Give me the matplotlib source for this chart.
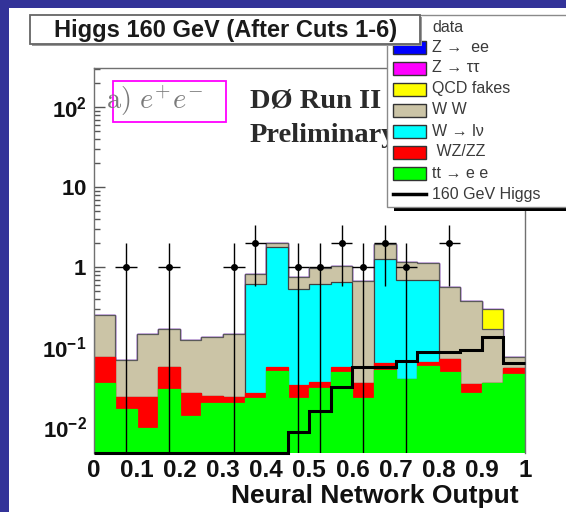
import numpy as np
import matplotlib
matplotlib.use("Agg")
import matplotlib.pyplot as plt
from matplotlib.patches import Rectangle
from matplotlib.lines import Line2D
from matplotlib.ticker import FixedLocator, FixedFormatter, LogLocator, NullFormatter

# ---------------- data ----------------
edges = np.linspace(0.0, 1.0, 21)
tt_ee = [0.0355, 0.0169, 0.0099, 0.0301, 0.0138, 0.0200, 0.0203, 0.0235, 0.0506, 0.0230,
         0.0309, 0.0496, 0.0230, 0.0520, 0.0398, 0.0590, 0.0496, 0.0266, 0.0360, 0.0464]
wz_zz = [0.0405, 0.0068, 0.0142, 0.0261, 0.0133, 0.0048, 0.0038, 0.0036, 0.0067, 0.0105,
         0.0055, 0.0077, 0.0125, 0.0110, 0.0000, 0.0070, 0.0218, 0.0080, 0.0000, 0.0086]
w_lnu = [0, 0, 0, 0, 0, 0, 0, 0.591, 1.72, 0.50,
         0.59, 0.60, 0, 1.20, 0.654, 0.628, 0, 0, 0, 0]
ww = [0.177, 0.0453, 0.123, 0.112, 0.096, 0.108, 0.121, 0.206, 0.25, 0.23,
      0.34, 0.38, 0.645, 0.69, 0.47, 0.43, 0.49, 0.348, 0.132, 0.021]
qcd = [0] * 18 + [0.133, 0]
z_tautau = [0] * 20
z_ee = [0] * 20
higgs = [0] * 9 + [0.0088, 0.016, 0.032, 0.057, 0.057, 0.067, 0.088, 0.088, 0.092, 0.136, 0.063]
data_counts = [0, 1, 0, 1, 0, 0, 1, 2, 0, 1, 1, 2, 1, 2, 1, 0, 2, 0, 0, 0]

legend_labels = ["data", "Z \u2192  ee", "Z \u2192 \u03c4\u03c4", "QCD fakes", "W W",
                 "W \u2192 l\u03bd", " WZ/ZZ", "tt \u2192 e e", "160 GeV Higgs"]
xtick_vals = [0, 0.1, 0.2, 0.3, 0.4, 0.5, 0.6, 0.7, 0.8, 0.9, 1.0]
xtick_labels = ["0", "0.1", "0.2", "0.3", "0.4", "0.5", "0.6", "0.7", "0.8", "0.9", "1"]
ytick_vals = [1e-2, 1e-1, 1, 10, 100]
ytick_labels = [r"$10^{-2}$", r"$10^{-1}$", r"$1$", r"$10$", r"$10^{2}$"]

# ---------------- style ----------------
plt.rcParams["font.family"] = ["Liberation Sans", "DejaVu Sans"]
plt.rcParams["mathtext.fontset"] = "custom"
plt.rcParams["mathtext.rm"] = "Liberation Sans:bold"
plt.rcParams["mathtext.it"] = "Liberation Sans:bold"
plt.rcParams["mathtext.bf"] = "Liberation Sans:bold"

W, H, DPI = 566, 512, 100
fig = plt.figure(figsize=(W / DPI, H / DPI), dpi=DPI)
fig.patch.set_facecolor("white")

def fx(x):
    return x / W

def fy(y):
    return 1 - y / H

ax = fig.add_axes([fx(93.5), fy(453.3), (525 - 93.5) / W, (453.3 - 68.3) / H])
ax.set_yscale("log")
ax.set_xlim(0, 1)
ax.set_ylim(10 ** (-186 / 80), 10 ** (199 / 80))
ax.set_axisbelow(True)

components = [tt_ee, wz_zz, w_lnu, ww, qcd, z_tautau, z_ee]
colors = ["#00FF00", "#FF0000", "#00FFFF", "#CBC4A6", "#FFFF00", "#FF00FF", "#0000FF"]
edgecols = ["#00FF00", "#FF0000", "#404040", "#5A5A5A", "#555555", "#FF00FF", "#0000FF"]
cum = np.cumsum(np.array(components, dtype=float), axis=0)
for i in reversed(range(len(components))):
    ax.stairs(cum[i], edges, baseline=1e-6, fill=True, facecolor=colors[i],
              edgecolor=edgecols[i], linewidth=0.9, zorder=1 + 0.01 * (7 - i))

# Higgs line
ylo = ax.get_ylim()[0]
ax.stairs(np.clip(np.array(higgs, float), ylo, None), edges, baseline=None,
          color="black", linewidth=2.2, zorder=3, clip_on=False)

# data points
centers = 0.5 * (edges[:-1] + edges[1:])
counts = np.array(data_counts, float)
m = counts > 0
err = np.sqrt(counts[m])
ax.errorbar(centers[m], counts[m], xerr=0.025, yerr=[err, err], fmt="o", color="black",
            ms=4, lw=1.0, capsize=0, zorder=4)

# axes styling
for s in ["left", "top", "right"]:
    ax.spines[s].set_color("#707070")
    ax.spines[s].set_linewidth(1.0)
ax.spines["bottom"].set_visible(False)

ax.yaxis.set_major_locator(FixedLocator(ytick_vals))
ax.yaxis.set_major_formatter(FixedFormatter(ytick_labels))
ax.yaxis.set_minor_locator(LogLocator(base=10, subs=np.arange(2, 10)))
ax.yaxis.set_minor_formatter(NullFormatter())
ax.tick_params(axis="y", which="major", direction="in", length=8, width=1,
               color="#555555", labelsize=16, pad=5, labelcolor="#111111")
ax.tick_params(axis="y", which="minor", direction="in", length=4, width=1, color="#555555")
ax.set_xticks(xtick_vals)
ax.set_xticklabels(xtick_labels)
ax.tick_params(axis="x", length=0, pad=4, labelsize=17.5, labelcolor="#111111")
for lab in ax.get_xticklabels():
    lab.set_fontweight("bold")

fig.text(fx(519), fy(496), "Neural Network Output", ha="right", va="center",
         fontsize=19, fontweight="bold", color="#111111")

# in-plot texts
fig.patches.append(Rectangle((fx(113), fy(122)), (226 - 113) / W, (122 - 80.7) / H,
                             transform=fig.transFigure, fill=False, edgecolor="#FF00FF",
                             linewidth=1.3, zorder=5))
fig.text(fx(106), fy(109), r"$\mathrm{a)}\ e^{+}e^{-}$", math_fontfamily="cm",
         fontsize=20.5, color="#7a7a7a", ha="left", va="baseline", zorder=5)
fig.text(fx(250), fy(108), "D\u00d8 Run II", family="Liberation Serif", fontweight="bold",
         fontsize=20.5, color="#2a2a2a", ha="left", va="baseline", zorder=5)
fig.text(fx(250), fy(141.5), "Preliminary", family="Liberation Serif", fontweight="bold",
         fontsize=20.5, color="#2a2a2a", ha="left", va="baseline", zorder=5)

# legend (manual, ROOT style)
fig.patches.append(Rectangle((fx(394), fy(211)), (600 - 394) / W, (211 - 20) / H,
                             transform=fig.transFigure, facecolor="black", edgecolor="none",
                             zorder=9))
fig.patches.append(Rectangle((fx(387), fy(207)), (600 - 387) / W, (207 - 15) / H,
                             transform=fig.transFigure, facecolor="white", edgecolor="#8a8a8a",
                             linewidth=1.0, zorder=10))
rows = [27, 47.5, 68, 89, 110, 131, 152, 173.5, 194]
sw_colors = [None, "#0000FF", "#FF00FF", "#FFFF00", "#CBC4A6", "#00FFFF", "#FF0000", "#00FF00", None]
for k, (lab, yy) in enumerate(zip(legend_labels, rows)):
    c = sw_colors[k]
    if c is not None:
        fig.patches.append(Rectangle((fx(393), fy(yy + 6.5)), 33 / W, 13 / H,
                                     transform=fig.transFigure, facecolor=c,
                                     edgecolor="#333333", linewidth=1.0, zorder=11))
    if k == len(legend_labels) - 1:
        fig.lines.append(Line2D([fx(393), fx(426)], [fy(yy), fy(yy)], transform=fig.transFigure,
                                color="black", linewidth=2.5, zorder=11))
    fig.text(fx(432), fy(yy), lab, fontsize=11.5, color="#3a3a3a", ha="left", va="center",
             zorder=11)

# title box
fig.patches.append(Rectangle((fx(32), fy(46)), (422 - 32) / W, (46 - 17) / H,
                             transform=fig.transFigure, facecolor="#9a9a9a", edgecolor="none",
                             zorder=12))
fig.patches.append(Rectangle((fx(30), fy(44)), (420 - 30) / W, (44 - 15) / H,
                             transform=fig.transFigure, facecolor="white", edgecolor="#666666",
                             linewidth=1.3, zorder=13))
fig.text(fx(226), fy(30), "Higgs 160 GeV (After Cuts 1-6)", fontsize=17, fontweight="bold",
         color="#1a1a1a", ha="center", va="center", zorder=14)

# slide frame
fig.patches.append(Rectangle((0, fy(8)), 1, 8 / H, transform=fig.transFigure,
                             facecolor="#333399", edgecolor="none", zorder=20))
fig.patches.append(Rectangle((0, 0), 9 / W, 1, transform=fig.transFigure,
                             facecolor="#333399", edgecolor="none", zorder=20))

fig.savefig("out.png", dpi=DPI)
